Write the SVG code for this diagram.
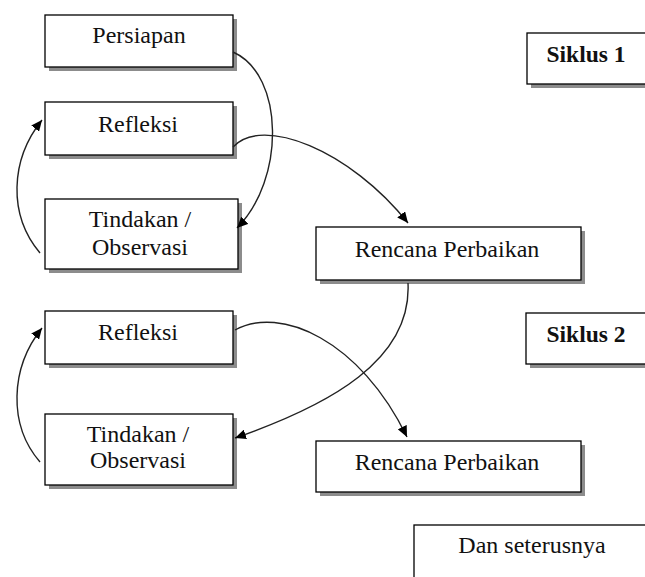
<svg xmlns="http://www.w3.org/2000/svg" width="645" height="577" viewBox="0 0 645 577">
<style>
.box{fill:#fff;stroke:#000;stroke-width:1.3}
.sh{fill:#8c8c8c}
text{font-family:'Liberation Serif','Times New Roman','DejaVu Serif',serif;font-size:24px;fill:#111;text-anchor:middle}
.b{font-weight:bold;font-size:23.5px}
.c{fill:none;stroke:#222;stroke-width:1.4;marker-end:url(#ah)}
</style>
<defs>
<marker id="ah" markerUnits="userSpaceOnUse" markerWidth="12" markerHeight="10" refX="11" refY="5" orient="auto">
<path d="M0,0 L11,5 L0,10 z" fill="#000"/>
</marker>
</defs>
<rect width="645" height="577" fill="#fff"/>
<g font-family="Liberation Serif, Times New Roman, serif">
<g id="persiapan"><rect class="sh" x="49" y="19" width="188" height="52"/><rect class="box" x="45" y="15" width="188" height="52"/><text x="139" y="43">Persiapan</text></g>
<g id="refleksi1"><rect class="sh" x="49" y="106" width="188" height="53"/><rect class="box" x="45" y="102" width="188" height="53"/><text x="138" y="132">Refleksi</text></g>
<g id="tindakan1"><rect class="sh" x="49" y="203" width="193" height="70"/><rect class="box" x="45" y="199" width="193" height="70"/><text x="140" y="227">Tindakan /</text><text x="140" y="255">Observasi</text></g>
<g id="siklus1"><rect class="sh" x="531" y="37" width="130" height="51"/><rect class="box" x="527" y="33" width="130" height="51"/><text class="b" x="586" y="62">Siklus 1</text></g>
<g id="rencana1"><rect class="sh" x="320" y="231" width="265" height="53"/><rect class="box" x="316" y="227" width="265" height="53"/><text x="447" y="257">Rencana Perbaikan</text></g>
<g id="refleksi2"><rect class="sh" x="49" y="315" width="188" height="53"/><rect class="box" x="45" y="311" width="188" height="53"/><text x="138" y="340">Refleksi</text></g>
<g id="tindakan2"><rect class="sh" x="49" y="418" width="188" height="71"/><rect class="box" x="45" y="414" width="188" height="71"/><text x="138" y="442">Tindakan /</text><text x="138" y="468">Observasi</text></g>
<g id="siklus2"><rect class="sh" x="530" y="317" width="130" height="51"/><rect class="box" x="526" y="313" width="130" height="51"/><text class="b" x="586" y="342">Siklus 2</text></g>
<g id="rencana2"><rect class="sh" x="320" y="445" width="265" height="51"/><rect class="box" x="316" y="441" width="265" height="51"/><text x="447" y="470">Rencana Perbaikan</text></g>
<g id="dan"><rect class="box" x="414" y="525" width="250" height="70"/><text x="532" y="553">Dan seterusnya</text></g>
</g>
<g id="connectors">
<path class="c" d="M233,52 C285,75 285,180 237,228"/>
<path class="c" d="M233,147 C262,115 350,150 408,223"/>
<path class="c" d="M40,253 C8,215 10,160 42,120"/>
<path class="c" d="M408,283 C412,360 330,405 235,438"/>
<path class="c" d="M235,330 C280,305 360,340 407,437"/>
<path class="c" d="M40,462 C8,425 10,368 42,328"/>
</g>
</svg>
